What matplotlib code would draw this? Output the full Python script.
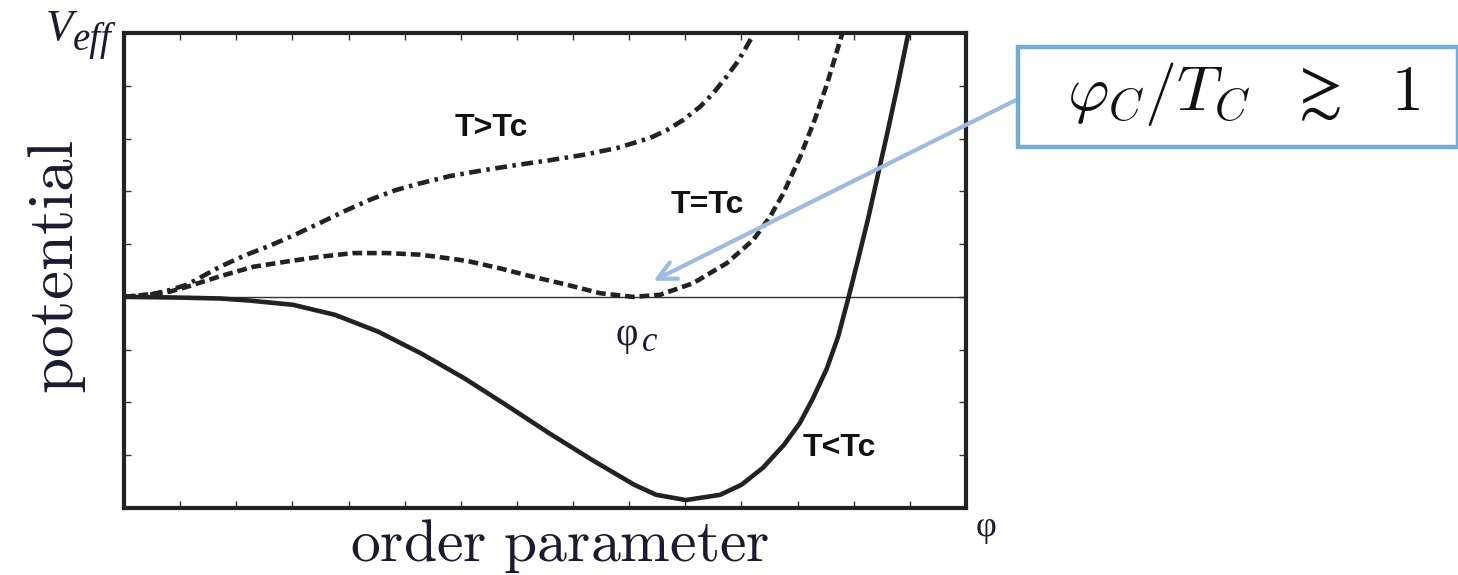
import matplotlib
matplotlib.use("Agg")
import matplotlib.pyplot as plt
from matplotlib.patches import Rectangle, FancyArrowPatch

plt.rcParams['mathtext.fontset'] = 'cm'
plt.rcParams['lines.scale_dashes'] = False

# T<Tc (solid)
x_below = [0.0, 0.82, 1.71, 2.24, 3.01, 3.76, 4.53, 5.29, 6.06, 6.81, 7.57, 8.34, 9.09,
           9.48, 10.01, 10.62, 11.00, 11.38, 11.76, 12.04, 12.27, 12.52, 12.72, 12.90,
           13.08, 13.26, 13.43, 13.61, 13.79, 13.97, 14.04]
y_below = [0.0, -0.01, -0.03, -0.07, -0.15, -0.34, -0.66, -1.07, -1.54, -2.05, -2.58,
           -3.09, -3.56, -3.75, -3.85, -3.75, -3.56, -3.24, -2.80, -2.39, -1.93, -1.36,
           -0.76, -0.04, 0.72, 1.50, 2.31, 3.16, 4.05, 4.98, 5.36]
# T=Tc (dashed)
x_crit = [0.0, 0.46, 0.82, 1.12, 1.71, 2.30, 2.90, 3.49, 4.08, 4.69, 5.27, 5.86, 6.16,
          6.70, 7.29, 7.89, 8.48, 9.07, 9.55, 10.14, 10.74, 11.21, 11.51, 11.74, 12.04,
          12.31, 12.52, 12.79, 12.83]
y_crit = [0.0, 0.05, 0.10, 0.19, 0.39, 0.57, 0.67, 0.76, 0.83, 0.83, 0.80, 0.72, 0.67,
          0.54, 0.38, 0.23, 0.07, 0.0, 0.04, 0.26, 0.64, 1.08, 1.52, 1.95, 2.64, 3.37,
          4.02, 4.97, 5.11]
# T>Tc (dash-dot)
x_above = [0.0, 0.46, 0.82, 1.12, 1.71, 2.16, 2.60, 3.05, 3.49, 3.94, 4.38, 4.83, 5.27,
           5.81, 6.40, 7.00, 7.59, 8.18, 8.78, 9.37, 9.67, 9.96, 10.26, 10.49, 10.74,
           10.92, 11.03, 11.19, 11.24]
y_above = [0.0, 0.04, 0.13, 0.23, 0.57, 0.79, 0.97, 1.18, 1.40, 1.63, 1.84, 2.02, 2.15,
           2.29, 2.40, 2.50, 2.59, 2.69, 2.82, 3.01, 3.16, 3.35, 3.60, 3.85, 4.18, 4.44,
           4.63, 4.93, 5.05]

x_ticks = list(range(0, 16))
y_ticks = list(range(-4, 6))

W, H = 1458, 575
fig = plt.figure(figsize=(W / 100, H / 100), dpi=100)
ax = fig.add_axes([124 / W, 1 - 508 / H, (966 - 124) / W, (508 - 33) / H])
ax.set_xlim(0, 15)
ax.set_ylim(-4, 5)

lc = '#222222'
ax.axhline(0, color='#333333', lw=1.0, zorder=1)
ax.plot(x_below, y_below, color=lc, lw=3.3, solid_joinstyle='round', zorder=3)
ax.plot(x_crit, y_crit, color=lc, lw=3.3, dashes=(7.0, 3.5), zorder=3)
ax.plot(x_above, y_above, color=lc, lw=3.3, dashes=(8.5, 4.0, 2.5, 4.0), zorder=3)

ax.set_xticks(x_ticks)
ax.set_yticks(y_ticks)
ax.tick_params(direction='in', length=5, width=1.0, color='#333333',
               top=True, right=True, labelbottom=False, labelleft=False)
for s in ax.spines.values():
    s.set_linewidth(3.0)
    s.set_color('#222222')

# curve labels
lab_kw = dict(fontsize=23, family='Liberation Sans', color='#111111',
              ha='center', va='center', fontweight='bold')
ax.text(6.55, 3.20, 'T>Tc', **lab_kw)
ax.text(10.40, 1.74, 'T=Tc', **lab_kw)
ax.text(12.74, -2.86, 'T<Tc', **lab_kw)

txtc = '#1b1b2f'
serif = ['Liberation Serif', 'DejaVu Serif']
# phi_c label
fig.text(627 / W, 1 - 345 / H, 'φ', fontsize=28, family=serif, ha='center',
         va='baseline', color=txtc)
fig.text(650 / W, 1 - 351 / H, 'c', fontsize=25, family=serif, style='italic',
         ha='center', va='baseline', color=txtc)

# axis texts
fig.text(56 / W, 1 - 267 / H, r'$\mathrm{potential}$', fontsize=47, rotation=90,
         ha='center', va='center', color=txtc)
fig.text(560 / W, 1 - 561 / H, r'$\mathrm{order\ parameter}$', fontsize=43,
         ha='center', va='baseline', color=txtc)
fig.text(46 / W, 1 - 40 / H, 'V', fontsize=32, family=serif, style='italic',
         ha='left', va='baseline', color=txtc)
fig.text(73 / W, 1 - 50 / H, 'eff', fontsize=28, family=serif, style='italic',
         ha='left', va='baseline', color=txtc)
fig.text(986 / W, 1 - 536 / H, 'φ', fontsize=26, family=serif, ha='center',
         va='baseline', color=txtc)

# annotation box
box_c = '#74acd9'
fig.patches.append(Rectangle((1018 / W, 1 - 147 / H), (1458 - 1018) / W, 100 / H,
                             transform=fig.transFigure, fill=True, facecolor='white',
                             edgecolor=box_c, lw=3.2, zorder=5))
fig.text(1243 / W, 1 - 94 / H, r'$\varphi_C/T_C\ \ \gtrsim\ \ 1$', fontsize=46,
         ha='center', va='center', color='#111111', zorder=6)

arrow = FancyArrowPatch((1018 / W, 1 - 99 / H), (651 / W, 1 - 282 / H),
                        transform=fig.transFigure, arrowstyle='->,head_length=13,head_width=6.5',
                        color='#9bbbe0', lw=3.0, zorder=4)
fig.patches.append(arrow)

fig.savefig('out.png', dpi=100)
